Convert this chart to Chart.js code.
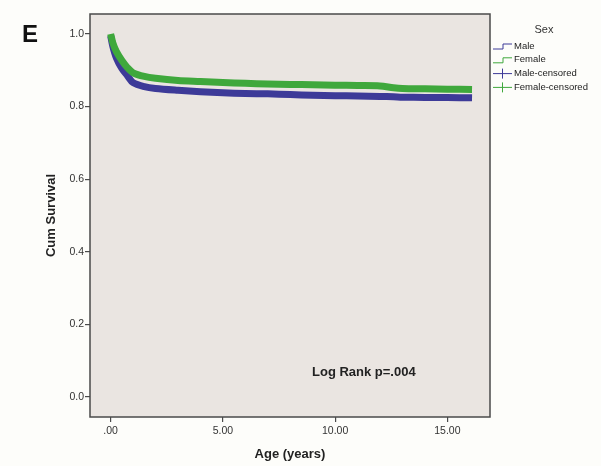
<!DOCTYPE html>
<html>
<head>
<meta charset="utf-8">
<script src="https://cdn.jsdelivr.net/npm/chart.js@4/dist/chart.umd.min.js"></script>
<style>
  html, body { margin: 0; padding: 0; background: #fdfdfa; }
  #wrap { width: 601px; height: 466px; position: relative; }
</style>
</head>
<body>
<div id="wrap"><canvas id="survChart"></canvas></div>
<script>
// Kaplan-Meier curves (time in years, cum survival)
const timePoints = [0, 0.1, 0.25, 0.5, 0.75, 1, 1.5, 2, 3, 4, 5, 6, 7, 8, 9, 10, 11, 12, 12.6, 13, 14, 15, 16.1];
const maleSurvival = [0.995, 0.965, 0.935, 0.905, 0.885, 0.866, 0.855, 0.850, 0.845, 0.841, 0.838, 0.836, 0.835, 0.833, 0.831, 0.830, 0.829, 0.828, 0.827, 0.826, 0.825, 0.825, 0.824];
const femaleSurvival = [1.0, 0.975, 0.952, 0.927, 0.907, 0.893, 0.883, 0.878, 0.872, 0.869, 0.866, 0.864, 0.862, 0.861, 0.860, 0.859, 0.858, 0.857, 0.852, 0.850, 0.849, 0.848, 0.847];
const xTicks = [0, 5, 10, 15];
const xTickLabels = ['.00', '5.00', '10.00', '15.00'];
const yTicks = [0, 0.2, 0.4, 0.6, 0.8, 1.0];
const legendLabels = ['Male', 'Female', 'Male-censored', 'Female-censored'];

const maleColor = '#3d3a98';
const femaleColor = '#3fa83c';
const axisColor = '#4a4a4a';

function toPoints(xs, ys) {
    return xs.map((x, i) => ({ x: x, y: ys[i] }));
}

// fond gris de la zone de tracé + cadre
const plotFrame = {
    id: 'plotFrame',
    beforeDraw(chart) {
        const { ctx, chartArea: a } = chart;
        ctx.save();
        ctx.fillStyle = '#eae5e1';
        ctx.fillRect(a.left, a.top, a.right - a.left, a.bottom - a.top);
        ctx.restore();
    },
    afterDraw(chart) {
        const { ctx, chartArea: a } = chart;
        ctx.save();
        ctx.strokeStyle = axisColor;
        ctx.lineWidth = 1.5;
        ctx.strokeRect(a.left, a.top, a.right - a.left, a.bottom - a.top);
        ctx.restore();
    }
};

// texte annexe : lettre du panneau, log rank, légende
const annotations = {
    id: 'annotations',
    afterDraw(chart) {
        const { ctx, chartArea: a } = chart;
        ctx.save();
        ctx.fillStyle = '#111';
        ctx.font = 'bold 24px "Liberation Sans", Arial, sans-serif';
        ctx.textAlign = 'left';
        ctx.textBaseline = 'middle';
        ctx.fillText('E', 22, 35);

        ctx.fillStyle = '#222';
        ctx.font = 'bold 13px "Liberation Sans", Arial, sans-serif';
        ctx.fillText('Log Rank p=.004', 312, 372);

        // légende
        const lx = a.right + 3;
        ctx.font = '11px "Liberation Sans", Arial, sans-serif';
        ctx.textAlign = 'center';
        ctx.fillStyle = '#333';
        ctx.fillText('Sex', 544, 30);

        const colors = [maleColor, femaleColor, maleColor, femaleColor];
        ctx.font = '9.5px "Liberation Sans", Arial, sans-serif';
        ctx.textAlign = 'left';
        legendLabels.forEach((label, i) => {
            const y = 46 + i * 13.8;
            ctx.strokeStyle = colors[i];
            ctx.lineWidth = 1;
            ctx.beginPath();
            if (i < 2) {
                ctx.moveTo(lx, y + 3);
                ctx.lineTo(lx + 10, y + 3);
                ctx.lineTo(lx + 10, y - 2);
                ctx.lineTo(lx + 19, y - 2);
            } else {
                ctx.moveTo(lx, y);
                ctx.lineTo(lx + 19, y);
                ctx.moveTo(lx + 9.5, y - 5);
                ctx.lineTo(lx + 9.5, y + 5);
            }
            ctx.stroke();
            ctx.fillStyle = '#222';
            ctx.fillText(label, lx + 21, y);
        });
        ctx.restore();
    }
};

const ctx = document.getElementById('survChart').getContext('2d');
new Chart(ctx, {
    type: 'line',
    data: {
        datasets: [{
            label: 'Female',
            data: toPoints(timePoints, femaleSurvival),
            borderColor: femaleColor,
            borderWidth: 7,
            pointRadius: 0,
            tension: 0.3,
            order: 0
        }, {
            label: 'Male',
            data: toPoints(timePoints, maleSurvival),
            borderColor: maleColor,
            borderWidth: 7,
            pointRadius: 0,
            tension: 0.3,
            order: 1
        }]
    },
    options: {
        responsive: true,
        maintainAspectRatio: false,
        animation: false,
        layout: { padding: { top: 14, right: 111, left: 0, bottom: 0 } },
        plugins: {
            legend: { display: false },
            tooltip: { enabled: false }
        },
        scales: {
            x: {
                type: 'linear',
                min: -0.92,
                max: 16.9,
                afterBuildTicks: scale => { scale.ticks = xTicks.map(v => ({ value: v })); },
                afterFit: scale => { scale.height = 49; },
                grid: { drawOnChartArea: false, tickLength: 5, color: axisColor, lineWidth: 1.2 },
                border: { display: false },
                ticks: {
                    color: '#333',
                    padding: 3,
                    maxRotation: 0,
                    font: { family: '"Liberation Sans", Arial, sans-serif', size: 10.5 },
                    callback: value => xTickLabels[xTicks.indexOf(value)]
                },
                title: {
                    display: true,
                    text: 'Age (years)',
                    color: '#222',
                    padding: { top: 5 },
                    font: { family: '"Liberation Sans", Arial, sans-serif', size: 13, weight: 'bold' }
                }
            },
            y: {
                min: -0.055,
                max: 1.055,
                afterBuildTicks: scale => { scale.ticks = yTicks.map(v => ({ value: v })); },
                afterFit: scale => { scale.width = 90; },
                grid: { drawOnChartArea: false, tickLength: 5, color: axisColor, lineWidth: 1.2 },
                border: { display: false },
                ticks: {
                    color: '#333',
                    padding: 1,
                    font: { family: '"Liberation Sans", Arial, sans-serif', size: 10.5 },
                    callback: value => value.toFixed(1)
                },
                title: {
                    display: true,
                    text: 'Cum Survival',
                    color: '#222',
                    padding: { top: 44, bottom: 0 },
                    font: { family: '"Liberation Sans", Arial, sans-serif', size: 13, weight: 'bold' }
                }
            }
        }
    },
    plugins: [plotFrame, annotations]
});
</script>
</body>
</html>
